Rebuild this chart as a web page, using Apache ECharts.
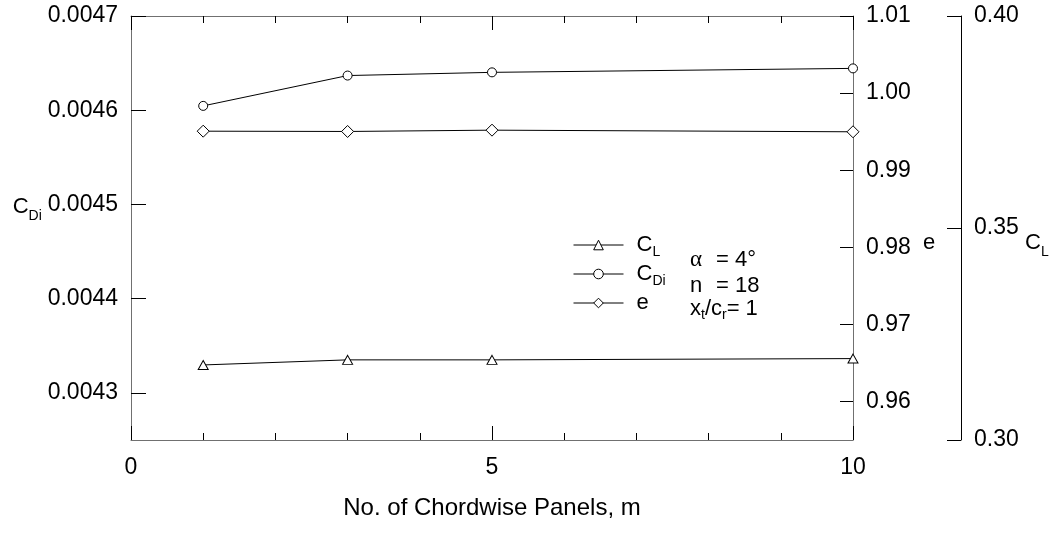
<!DOCTYPE html>
<html>
<head>
<meta charset="utf-8">
<script src="https://cdn.jsdelivr.net/npm/echarts@6/dist/echarts.min.js"></script>
<style>
html,body{margin:0;padding:0;background:#fff;}
#chart{width:1060px;height:537px;}
</style>
</head>
<body>
<div id="chart"></div>
<script>
// Number of chordwise panels, m
const panels = [1, 3, 5, 10];
// Lift coefficient C_L
const liftCoef = [0.3177, 0.3189, 0.3189, 0.3192];
// Induced drag coefficient C_Di
const dragCoef = [0.0046046, 0.0046368, 0.0046402, 0.0046444];
// Span efficiency factor e
const spanEff = [0.99506, 0.99502, 0.99519, 0.99498];

// Tick positions for each axis
const cdiTicks = [0.0043, 0.0044, 0.0045, 0.0046, 0.0047];
const eTicks = [0.96, 0.97, 0.98, 0.99, 1.00, 1.01];
const clTicks = [0.30, 0.35, 0.40];

const FONT = '"Liberation Sans", Arial, sans-serif';
const FRAME = '#707070';
const TICK_FONT = 23;

function richSet(mainLH) {
  return {
    m: { fontFamily: FONT, fontSize: 22, lineHeight: mainLH, color: '#000' },
    s: { fontFamily: FONT, fontSize: 14, lineHeight: 14, verticalAlign: 'bottom', color: '#000' },
    g: { fontFamily: '"Liberation Serif", "DejaVu Serif", serif', fontSize: 23, lineHeight: mainLH, width: 26, color: '#000' },
    w: { fontFamily: FONT, fontSize: 22, lineHeight: mainLH, width: 26, color: '#000' }
  };
}

const legendText = { CL: '{m|C}{s|L}', CDi: '{m|C}{s|Di}', e: '{m|e}' };

const chart = echarts.init(document.getElementById('chart'), null, { renderer: 'canvas' });

const xBase = {
  type: 'value', min: 0, max: 10, interval: 5,
  axisLine: { show: true, onZero: false, lineStyle: { color: FRAME, width: 1 } },
  axisTick: { show: true, inside: true, length: 14, lineStyle: { color: '#000', width: 1 } },
  minorTick: { show: true, splitNumber: 5, length: 7, lineStyle: { color: '#000', width: 1 } },
  splitLine: { show: false },
  minorSplitLine: { show: false }
};

function valueLabels(values, digits) {
  return {
    show: true, margin: 13, customValues: values,
    fontFamily: FONT, fontSize: TICK_FONT, color: '#000',
    formatter: v => v.toFixed(digits)
  };
}

chart.setOption({
  animation: false,
  backgroundColor: '#fff',
  grid: { left: 131, right: 207, top: 16, bottom: 97, containLabel: false },
  xAxis: [
    Object.assign({}, xBase, {
      position: 'bottom',
      axisLabel: { show: true, margin: 16, fontFamily: FONT, fontSize: TICK_FONT, color: '#000' },
      name: 'No. of Chordwise Panels, m',
      nameLocation: 'middle',
      nameGap: 56,
      nameTextStyle: { fontFamily: FONT, fontSize: 24, color: '#000' }
    }),
    Object.assign({}, xBase, {
      position: 'top',
      axisLabel: { show: false }
    })
  ],
  yAxis: [
    {
      type: 'value', position: 'left', min: 0.00425, max: 0.0047,
      axisLine: { show: true, onZero: false, lineStyle: { color: FRAME, width: 1 } },
      axisTick: { show: true, inside: true, length: 15, customValues: cdiTicks, lineStyle: { color: '#000' } },
      axisLabel: valueLabels(cdiTicks, 4),
      splitLine: { show: false },
      name: '{m|C}{s|Di}',
      nameLocation: 'middle', nameRotate: 0, nameGap: 87,
      nameTextStyle: { rich: richSet(32), padding: [0, 0, 42, 0] }
    },
    {
      type: 'value', position: 'right', min: 0.955, max: 1.01,
      axisLine: { show: true, onZero: false, lineStyle: { color: FRAME, width: 1 } },
      axisTick: { show: true, inside: true, length: 13, customValues: eTicks, lineStyle: { color: '#000' } },
      axisLabel: valueLabels(eTicks, 2),
      splitLine: { show: false },
      name: '{m|e}',
      nameLocation: 'middle', nameRotate: 0, nameGap: 70,
      nameTextStyle: { rich: richSet(32), padding: [30, 0, 0, 0] }
    },
    {
      type: 'value', position: 'right', offset: 108, min: 0.30, max: 0.40,
      axisLine: { show: true, onZero: false, lineStyle: { color: '#000', width: 1 } },
      axisTick: { show: true, inside: true, length: 14, customValues: clTicks, lineStyle: { color: '#000' } },
      axisLabel: valueLabels(clTicks, 2),
      splitLine: { show: false },
      name: '{m|C}{s|L}',
      nameLocation: 'middle', nameRotate: 0, nameGap: 64,
      nameTextStyle: { rich: richSet(32), padding: [30, 0, 0, 0] }
    }
  ],
  legend: {
    show: true,
    orient: 'vertical',
    left: 573, top: 234, padding: 0,
    itemWidth: 50, itemHeight: 12, itemGap: 4,
    data: ['CL', 'CDi', 'e'],
    formatter: name => legendText[name],
    itemStyle: { borderWidth: 1 },
    lineStyle: { width: 1 },
    textStyle: { rich: richSet(28), padding: [0, 0, 0, 8] },
    selectedMode: false
  },
  graphic: [
    { type: 'text', x: 690, y: 260, style: { text: '{g|α}{m|= 4°}', rich: richSet(26), verticalAlign: 'middle' } },
    { type: 'text', x: 690, y: 286, style: { text: '{w|n}{m|= 18}', rich: richSet(26), verticalAlign: 'middle' } },
    { type: 'text', x: 690, y: 309, style: { text: '{m|x}{s|t}{m|/c}{s|r}{m|= 1}', rich: richSet(26), verticalAlign: 'middle' } }
  ],
  series: [
    {
      name: 'CL', type: 'line', xAxisIndex: 0, yAxisIndex: 2,
      data: panels.map((m, i) => [m, liftCoef[i]]),
      symbol: 'triangle', symbolSize: [10, 9], showSymbol: true,
      lineStyle: { color: '#000', width: 1 },
      itemStyle: { color: '#fff', borderColor: '#000', borderWidth: 1 },
      emphasis: { disabled: true }, z: 3
    },
    {
      name: 'CDi', type: 'line', xAxisIndex: 0, yAxisIndex: 0,
      data: panels.map((m, i) => [m, dragCoef[i]]),
      symbol: 'circle', symbolSize: 9, showSymbol: true,
      lineStyle: { color: '#000', width: 1 },
      itemStyle: { color: '#fff', borderColor: '#000', borderWidth: 1 },
      emphasis: { disabled: true }, z: 3
    },
    {
      name: 'e', type: 'line', xAxisIndex: 0, yAxisIndex: 1,
      data: panels.map((m, i) => [m, spanEff[i]]),
      symbol: 'diamond', symbolSize: [12, 12], showSymbol: true,
      lineStyle: { color: '#000', width: 1 },
      itemStyle: { color: '#fff', borderColor: '#000', borderWidth: 1 },
      emphasis: { disabled: true }, z: 3
    }
  ]
});
</script>
</body>
</html>
